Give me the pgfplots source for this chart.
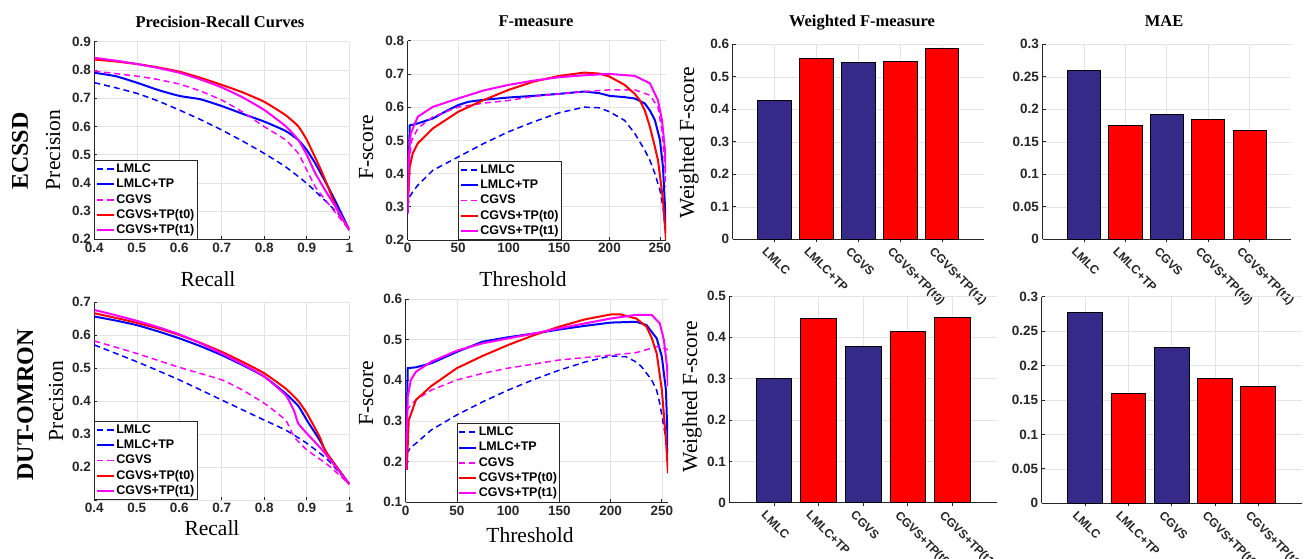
\documentclass[border=0pt]{standalone}
\usepackage{fontspec}
\setmainfont{Liberation Serif}
\setsansfont{Liberation Sans}
\usepackage{pgfplots}
\pgfplotsset{compat=1.18}
\definecolor{axc}{HTML}{262626}
\definecolor{gridc}{HTML}{E3E3E3}
\definecolor{navy}{HTML}{352A87}
\definecolor{mblue}{HTML}{0000FF}
\definecolor{mmag}{HTML}{FF00FF}
\definecolor{mred}{HTML}{FF0000}
\newcommand{\tickfont}{\fontsize{13.5}{15}\selectfont\sffamily\bfseries}
\newcommand{\legfont}{\fontsize{12.5}{14}\selectfont\sffamily\bfseries}
\newcommand{\barfont}{\fontsize{12}{14}\selectfont\sffamily\bfseries}
\newcommand{\labfont}{\fontsize{21.5}{24}\selectfont\rmfamily}
\newcommand{\titfont}{\fontsize{16.5}{19}\selectfont\rmfamily\bfseries}
\newcommand{\rowfont}{\fontsize{24}{28}\selectfont\rmfamily\bfseries}
\pgfplotsset{
 base/.style={scale only axis, anchor=south west, axis x line*=bottom, axis y line*=left,
   axis line style={line width=1pt, draw=axc}, every tick/.style={draw=axc, line width=0.8pt},
   major tick length=3pt, tick align=inside, xmajorgrids, ymajorgrids,
   major grid style={draw=gridc, line width=0.6pt},
   ticklabel style={font=\tickfont, text=axc},
   /pgf/number format/assume math mode=true, /pgf/number format/fixed, /pgf/number format/precision=2},
 lineax/.style={base, no markers, legend cell align=left,
   legend style={at={(0,0)}, anchor=south west, draw=axc, line width=0.8pt, fill=white, font=\legfont,
     inner sep=1pt, row sep=0.3pt, nodes={inner sep=1.5pt, text height=9.3pt, text depth=2.7pt}}},
 barax/.style={base, ybar, bar shift=0pt, bar width=0.8, xmin=0, xmax=6, ymin=0, xtick={1,2,3,4,5},
   xticklabels={LMLC,LMLC+TP,CGVS,CGVS+TP(t0),CGVS+TP(t1)},
   xticklabel style={font=\barfont, xshift=-7pt, yshift=-4pt, rotate=-45, anchor=north west, inner sep=0pt}},
 slmlc/.style={color=mblue, line width=1.5pt, dash pattern=on 6pt off 4pt},
 slmlctp/.style={color=mblue, line width=2pt},
 scgvs/.style={color=mmag, line width=1.5pt, dash pattern=on 6pt off 4pt},
 st0/.style={color=mred, line width=2pt},
 st1/.style={color=mmag, line width=2pt},
 bnavy/.style={fill=navy, draw=black, line width=0.8pt},
 bred/.style={fill=mred, draw=black, line width=0.8pt},
}
\begin{document}
\begin{tikzpicture}
\useasboundingbox (0,0) rectangle (1307pt,558pt);
\clip (0,0) rectangle (1307pt,558pt);
% ---------- P1: ECSSD PR
\begin{axis}[lineax, at={(94.3pt,318.7pt)}, width=255pt, height=197.6pt,
  xmin=0.4, xmax=1, ymin=0.2, ymax=0.9,
  xtick={0.4,0.5,0.6,0.7,0.8,0.9,1}, ytick={0.2,0.3,0.4,0.5,0.6,0.7,0.8,0.9}]
\addplot[slmlc, smooth, tension=0.3] coordinates {(0.4,0.755) (0.45,0.737) (0.5,0.717) (0.55,0.69) (0.6,0.658) (0.65,0.624) (0.7,0.587) (0.75,0.547) (0.8,0.504) (0.85,0.457) (0.9,0.398) (0.95,0.327) (0.98,0.28) (1.0,0.233)};
\addlegendentry{LMLC}
\addplot[slmlctp, smooth, tension=0.3] coordinates {(0.4,0.79) (0.45,0.778) (0.5,0.755) (0.55,0.729) (0.6,0.708) (0.65,0.696) (0.7,0.672) (0.75,0.644) (0.8,0.617) (0.85,0.584) (0.88,0.552) (0.9,0.516) (0.92,0.469) (0.95,0.386) (0.97,0.327) (1.0,0.233)};
\addlegendentry{LMLC+TP}
\addplot[scgvs, smooth, tension=0.3] coordinates {(0.4,0.796) (0.5,0.778) (0.55,0.766) (0.6,0.75) (0.65,0.725) (0.7,0.693) (0.75,0.65) (0.8,0.599) (0.85,0.552) (0.88,0.504) (0.9,0.445) (0.92,0.386) (0.95,0.327) (1.0,0.233)};
\addlegendentry{CGVS}
\addplot[st0, smooth, tension=0.3] coordinates {(0.4,0.837) (0.45,0.83) (0.5,0.821) (0.55,0.809) (0.6,0.794) (0.65,0.772) (0.7,0.747) (0.75,0.72) (0.8,0.687) (0.85,0.640) (0.88,0.6) (0.9,0.552) (0.93,0.457) (0.95,0.386) (0.97,0.31) (1.0,0.233)};
\addlegendentry{CGVS+TP(t0)}
\addplot[st1, smooth, tension=0.3] coordinates {(0.4,0.843) (0.45,0.833) (0.5,0.821) (0.55,0.807) (0.6,0.79) (0.65,0.766) (0.7,0.738) (0.75,0.702) (0.8,0.658) (0.85,0.601) (0.88,0.552) (0.9,0.499) (0.92,0.434) (0.95,0.357) (0.97,0.31) (1.0,0.233)};
\addlegendentry{CGVS+TP(t1)}
\end{axis}
% ---------- P2: ECSSD F
\begin{axis}[lineax, at={(407.7pt,318pt)}, width=258.3pt, height=199.3pt,
  xmin=0, xmax=256, ymin=0.2, ymax=0.8,
  xtick={0,50,100,150,200,250}, ytick={0.2,0.3,0.4,0.5,0.6,0.7,0.8},
  legend style={at={(0.196,0)}, anchor=south west}]
\addplot[slmlc] coordinates {(0,0.3) (2,0.33) (5,0.345) (10,0.365) (25,0.41) (50,0.45) (75,0.49) (100,0.526) (125,0.556) (150,0.583) (175,0.6) (190,0.598) (200,0.586) (215,0.56) (225,0.521) (235,0.47) (240,0.44) (245,0.40) (250,0.35) (253,0.3) (255,0.24)};
\addlegendentry{LMLC}
\addplot[slmlctp] coordinates {(0,0.28) (2,0.545) (10,0.551) (25,0.566) (40,0.591) (50,0.606) (60,0.616) (75,0.622) (100,0.629) (125,0.634) (150,0.64) (175,0.647) (190,0.642) (200,0.634) (215,0.63) (225,0.626) (235,0.611) (240,0.59) (245,0.561) (250,0.501) (253,0.42) (255,0.3) (256,0.22)};
\addlegendentry{LMLC+TP}
\addplot[scgvs] coordinates {(0,0.28) (2,0.45) (4,0.5) (10,0.536) (25,0.571) (50,0.6) (75,0.612) (100,0.62) (125,0.632) (150,0.64) (175,0.647) (200,0.652) (225,0.652) (240,0.636) (248,0.6) (252,0.53) (255,0.42) (256,0.36)};
\addlegendentry{CGVS}
\addplot[st0] coordinates {(0,0.3) (2,0.42) (5,0.461) (10,0.491) (25,0.536) (50,0.586) (75,0.621) (100,0.652) (125,0.677) (150,0.694) (175,0.704) (190,0.701) (200,0.692) (215,0.667) (225,0.64) (230,0.621) (235,0.59) (240,0.541) (245,0.48) (248,0.441) (251,0.37) (253,0.32) (255,0.24) (256,0.2)};
\addlegendentry{CGVS+TP(t0)}
\addplot[st1] coordinates {(0,0.28) (1,0.45) (3,0.521) (10,0.571) (25,0.601) (50,0.626) (75,0.65) (100,0.667) (125,0.68) (150,0.69) (175,0.696) (200,0.7) (225,0.694) (240,0.672) (248,0.621) (252,0.561) (255,0.471) (256,0.4)};
\addlegendentry{CGVS+TP(t1)}
\end{axis}
% ---------- P3: ECSSD weighted F
\begin{axis}[barax, at={(732.7pt,318.7pt)}, width=251.3pt, height=195pt,
  ymax=0.6, ytick={0,0.1,0.2,0.3,0.4,0.5,0.6}]
\addplot[bnavy] coordinates {(1,0.428) (3,0.545)};
\addplot[bred] coordinates {(2,0.556) (4,0.547) (5,0.588)};
\end{axis}
% ---------- P4: ECSSD MAE
\begin{axis}[barax, at={(1042.5pt,318.7pt)}, width=248.5pt, height=195pt,
  ymax=0.3, ytick={0,0.05,0.1,0.15,0.2,0.25,0.3}]
\addplot[bnavy] coordinates {(1,0.260) (3,0.192)};
\addplot[bred] coordinates {(2,0.175) (4,0.184) (5,0.168)};
\end{axis}
% ---------- P5: DUT PR
\begin{axis}[lineax, at={(94.3pt,58pt)}, width=255pt, height=198pt,
  xmin=0.4, xmax=1, ymin=0.1, ymax=0.7,
  xtick={0.4,0.5,0.6,0.7,0.8,0.9,1}, ytick={0.2,0.3,0.4,0.5,0.6,0.7}, extra y ticks={0.1}, extra y tick labels={}]
\addplot[slmlc, smooth, tension=0.3] coordinates {(0.4,0.57) (0.5,0.519) (0.6,0.464) (0.7,0.403) (0.8,0.342) (0.85,0.312) (0.9,0.272) (0.95,0.221) (1.0,0.148)};
\addlegendentry{LMLC}
\addplot[slmlctp, smooth, tension=0.3] coordinates {(0.4,0.656) (0.45,0.644) (0.5,0.63) (0.55,0.611) (0.6,0.59) (0.65,0.566) (0.7,0.539) (0.75,0.508) (0.8,0.474) (0.85,0.423) (0.88,0.385) (0.9,0.342) (0.93,0.282) (0.95,0.236) (1.0,0.148)};
\addlegendentry{LMLC+TP}
\addplot[scgvs, smooth, tension=0.3] coordinates {(0.4,0.582) (0.5,0.544) (0.6,0.502) (0.7,0.464) (0.75,0.432) (0.8,0.393) (0.85,0.342) (0.87,0.292) (0.9,0.252) (0.95,0.206) (1.0,0.148)};
\addlegendentry{CGVS}
\addplot[st0, smooth, tension=0.3] coordinates {(0.4,0.666) (0.45,0.652) (0.5,0.637) (0.55,0.62) (0.6,0.6) (0.65,0.576) (0.7,0.549) (0.75,0.518) (0.8,0.484) (0.85,0.438) (0.88,0.4) (0.9,0.363) (0.93,0.292) (0.945,0.246) (1.0,0.148)};
\addlegendentry{CGVS+TP(t0)}
\addplot[st1, smooth, tension=0.3] coordinates {(0.4,0.676) (0.45,0.66) (0.5,0.643) (0.55,0.624) (0.6,0.602) (0.65,0.575) (0.7,0.544) (0.75,0.511) (0.8,0.474) (0.85,0.418) (0.87,0.37) (0.88,0.332) (0.9,0.302) (0.94,0.246) (1.0,0.148)};
\addlegendentry{CGVS+TP(t1)}
\end{axis}
% ---------- P6: DUT F
\begin{axis}[lineax, at={(405.7pt,55.7pt)}, width=262.3pt, height=203.3pt,
  xmin=0, xmax=256, ymin=0.1, ymax=0.6,
  xtick={0,50,100,150,200,250}, ytick={0.1,0.2,0.3,0.4,0.5,0.6},
  legend style={at={(0.195,0)}, anchor=south west}]
\addplot[slmlc] coordinates {(1,0.22) (5,0.235) (10,0.245) (25,0.278) (50,0.315) (75,0.347) (100,0.376) (125,0.402) (150,0.425) (175,0.445) (200,0.46) (215,0.458) (225,0.445) (230,0.434) (240,0.401) (245,0.375) (248,0.343) (253,0.27) (256,0.22)};
\addlegendentry{LMLC}
\addplot[slmlctp] coordinates {(0,0.18) (2,0.43) (10,0.432) (25,0.442) (50,0.47) (75,0.495) (100,0.506) (125,0.515) (150,0.525) (175,0.534) (200,0.542) (225,0.544) (235,0.536) (245,0.503) (250,0.458) (254,0.376) (256,0.22)};
\addlegendentry{LMLC+TP}
\addplot[scgvs] coordinates {(1,0.3) (2,0.33) (5,0.339) (10,0.352) (25,0.376) (50,0.401) (75,0.417) (100,0.43) (125,0.44) (150,0.45) (175,0.456) (200,0.462) (225,0.468) (245,0.483) (252,0.479) (256,0.475)};
\addlegendentry{CGVS}
\addplot[st0] coordinates {(1,0.18) (3,0.302) (10,0.352) (25,0.386) (50,0.43) (75,0.46) (100,0.487) (125,0.511) (150,0.532) (175,0.55) (200,0.562) (210,0.562) (225,0.552) (235,0.532) (240,0.505) (245,0.466) (250,0.376) (254,0.253) (256,0.171)};
\addlegendentry{CGVS+TP(t0)}
\addplot[st1] coordinates {(0,0.18) (2,0.36) (5,0.401) (10,0.421) (25,0.446) (50,0.473) (75,0.491) (100,0.503) (125,0.515) (150,0.528) (175,0.54) (200,0.552) (225,0.561) (240,0.561) (248,0.54) (252,0.499) (255,0.434) (256,0.385)};
\addlegendentry{CGVS+TP(t1)}
\end{axis}
% ---------- P7: DUT weighted F
\begin{axis}[barax, at={(729.3pt,55.3pt)}, width=267.7pt, height=206.7pt,
  ymax=0.5, ytick={0,0.1,0.2,0.3,0.4,0.5}]
\addplot[bnavy] coordinates {(1,0.301) (3,0.378)};
\addplot[bred] coordinates {(2,0.445) (4,0.415) (5,0.448)};
\end{axis}
% ---------- P8: DUT MAE
\begin{axis}[barax, at={(1041.7pt,54.7pt)}, width=259.8pt, height=206.6pt,
  ymax=0.3, ytick={0,0.05,0.1,0.15,0.2,0.25,0.3}]
\addplot[bnavy] coordinates {(1,0.277) (3,0.2265)};
\addplot[bred] coordinates {(2,0.159) (4,0.1815) (5,0.170)};
\end{axis}
% ---------- titles and labels
\node[font=\titfont, anchor=base] at (220pt,530pt) {Precision-Recall Curves};
\node[font=\titfont, anchor=base] at (536pt,531pt) {F-measure};
\node[font=\titfont, anchor=base] at (862pt,531pt) {Weighted F-measure};
\node[font=\titfont, anchor=base] at (1164pt,531pt) {MAE};
\node[font=\labfont, anchor=base] at (208pt,272pt) {Recall};
\node[font=\labfont, anchor=base] at (523pt,272pt) {Threshold};
\node[font=\labfont, anchor=base] at (212pt,23pt) {Recall};
\node[font=\labfont, anchor=base] at (530pt,16pt) {Threshold};
\node[font=\labfont, rotate=90, anchor=base] at (60pt,408pt) {Precision};
\node[font=\labfont, rotate=90, anchor=base] at (373pt,410.5pt) {F-score};
\node[font=\labfont, rotate=90, anchor=base] at (694pt,415.5pt) {Weighted F-score};
\node[font=\labfont, rotate=90, anchor=base] at (63pt,157pt) {Precision};
\node[font=\labfont, rotate=90, anchor=base] at (373pt,164.6pt) {F-score};
\node[font=\labfont, rotate=90, anchor=base] at (697pt,161.3pt) {Weighted F-score};
\node[font=\rowfont, rotate=90, anchor=base] at (28pt,407pt) {ECSSD};
\node[font=\rowfont, rotate=90, anchor=base] at (33pt,153pt) {DUT-OMRON};
\end{tikzpicture}
\end{document}
